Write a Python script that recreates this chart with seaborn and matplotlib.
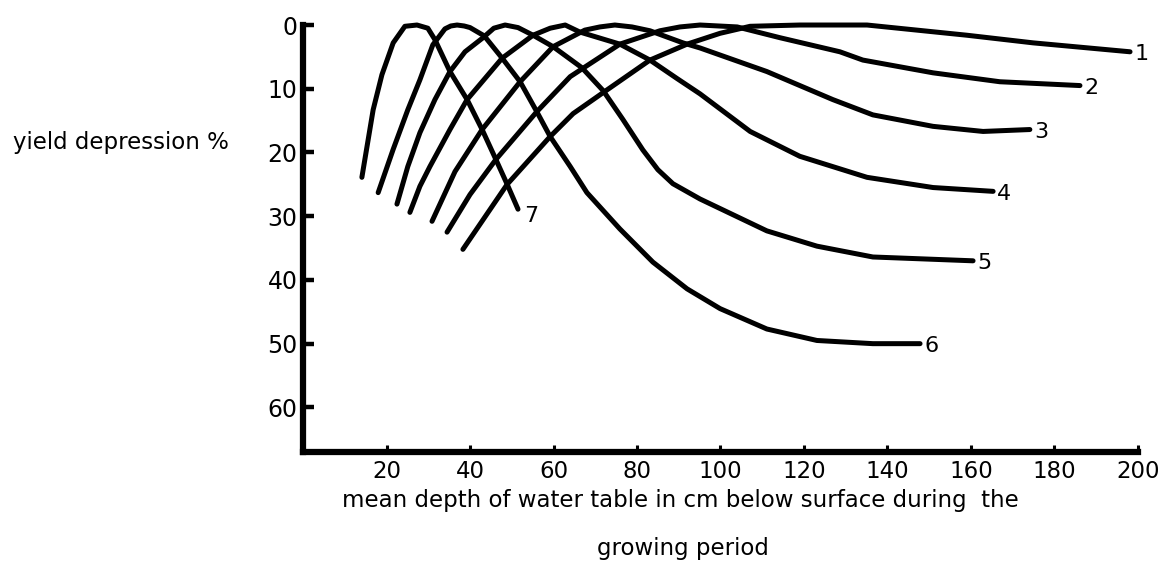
import matplotlib
matplotlib.use("Agg")
import matplotlib.pyplot as plt
import seaborn as sns
import pandas as pd

# Yield depression (%) against mean water-table depth (cm), curves 1-7
depth_1 = [38.3, 48.9, 59.2, 64.7, 71.9, 83.1, 92.0, 99.9, 107.1, 119.0, 135.1, 159.0, 174.9, 198.1]
yield_1 = [35.2, 25.0, 17.5, 13.9, 10.6, 5.5, 3.0, 1.3, 0.2, 0.0, 0.0, 1.6, 2.8, 4.2]

depth_2 = [34.5, 40.0, 46.2, 56.0, 64.0, 66.8, 75.9, 85.5, 90.3, 95.1, 104.0, 114.3, 128.6, 134.1, 150.9, 166.9, 186.1]
yield_2 = [32.5, 26.6, 21.1, 13.6, 8.1, 6.9, 3.0, 0.9, 0.3, 0.0, 0.3, 2.0, 4.2, 5.5, 7.5, 8.9, 9.5]

depth_3 = [30.9, 36.4, 42.9, 52.0, 59.9, 67.5, 71.1, 74.7, 78.8, 83.1, 91.0, 95.1, 111.1, 126.9, 136.5, 150.9, 162.9, 174.1]
yield_3 = [30.8, 23.0, 16.4, 8.9, 3.4, 0.8, 0.3, 0.0, 0.3, 0.9, 2.8, 3.6, 7.3, 11.7, 14.1, 15.9, 16.7, 16.4]

depth_4 = [25.6, 28.0, 30.4, 35.2, 39.3, 47.7, 55.1, 59.2, 62.8, 66.3, 75.9, 83.1, 89.6, 95.1, 107.1, 119.0, 135.1, 150.9, 165.3]
yield_4 = [29.4, 25.3, 22.2, 16.4, 11.7, 5.2, 1.6, 0.5, 0.0, 1.1, 3.0, 5.5, 8.4, 10.8, 16.7, 20.6, 23.9, 25.5, 26.1]

depth_5 = [22.5, 25.1, 28.0, 31.6, 35.2, 38.8, 43.1, 45.7, 48.4, 51.5, 55.1, 59.9, 66.8, 71.9, 76.6, 81.4, 85.0, 88.6, 95.1, 111.1, 123.1, 136.5, 160.5]
yield_5 = [28.1, 22.2, 16.9, 11.7, 7.3, 4.2, 2.0, 0.5, 0.0, 0.4, 1.6, 3.4, 6.7, 10.3, 14.8, 19.6, 22.7, 24.9, 27.3, 32.3, 34.7, 36.4, 37.0]

depth_6 = [18.0, 21.6, 25.1, 28.0, 31.1, 34.0, 35.4, 36.9, 38.6, 40.0, 43.4, 47.7, 52.0, 56.0, 59.2, 64.0, 68.0, 75.9, 83.8, 92.0, 99.9, 111.1, 123.1, 136.5, 147.8]
yield_6 = [26.3, 19.5, 13.3, 8.6, 3.1, 0.6, 0.15, 0.0, 0.15, 0.4, 1.7, 5.2, 8.9, 13.6, 17.5, 22.2, 26.3, 32.0, 37.2, 41.4, 44.5, 47.7, 49.5, 50.0, 50.0]

depth_7 = [14.1, 16.8, 18.9, 21.6, 24.4, 27.3, 29.9, 31.6, 35.2, 39.3, 42.9, 46.2, 48.9, 51.5]
yield_7 = [23.9, 13.3, 7.8, 2.8, 0.2, 0.0, 0.5, 2.3, 7.3, 11.7, 16.4, 21.1, 25.0, 28.9]

curve_names = ["1", "2", "3", "4", "5", "6", "7"]
depths = [depth_1, depth_2, depth_3, depth_4, depth_5, depth_6, depth_7]
yields = [yield_1, yield_2, yield_3, yield_4, yield_5, yield_6, yield_7]

x_ticks = [20, 40, 60, 80, 100, 120, 140, 160, 180, 200]
y_ticks = [0, 10, 20, 30, 40, 50, 60]

frames = [pd.DataFrame({"depth": d, "depression": y, "curve": n})
          for n, d, y in zip(curve_names, depths, yields)]
df = pd.concat(frames, ignore_index=True)

sns.set_theme(style="ticks")
plt.rcParams["font.family"] = ["DejaVu Sans"]
plt.rcParams["text.color"] = "black"
plt.rcParams["xtick.color"] = "black"
plt.rcParams["ytick.color"] = "black"
plt.rcParams["xtick.labelcolor"] = "black"
plt.rcParams["ytick.labelcolor"] = "black"

fig = plt.figure(figsize=(11.65, 5.61), dpi=100)
ax = fig.add_axes([0.2601, 0.1943, 0.7167, 0.7611])

sns.lineplot(data=df, x="depth", y="depression", units="curve", estimator=None,
             sort=False, color="black", linewidth=3.6, ax=ax)
for line in ax.get_lines():
    line.set_clip_on(False)
    line.set_solid_joinstyle("round")
    line.set_solid_capstyle("round")

# curve numbers at the right-hand end of each line
for n, d, y in zip(curve_names, depths, yields):
    dx = 1.0 if n != "7" else 1.5
    dy = 0.4 if n != "7" else 1.0
    ax.text(d[-1] + dx, y[-1] + dy, n, fontsize=16, color="black",
            ha="left", va="center", clip_on=False)

ax.set_xlim(0, 200)
ax.set_ylim(67, 0)
ax.set_xticks(x_ticks)
ax.set_yticks(y_ticks)
ax.set_xticklabels([str(v) for v in x_ticks], fontsize=16.5)
ax.set_yticklabels([str(v) for v in y_ticks], fontsize=17)
ax.tick_params(axis="y", direction="in", length=8, width=3.2, pad=4)
ax.tick_params(axis="x", direction="in", length=5, width=2.2, pad=6)
ax.set_xlabel("")
ax.set_ylabel("")

for side in ("top", "right"):
    ax.spines[side].set_visible(False)
for side in ("left", "bottom"):
    ax.spines[side].set_linewidth(4.5)
    ax.spines[side].set_color("black")
    ax.spines[side].set_capstyle("projecting")

fig.text(13 / 1165, 1 - 142 / 561, "yield depression %", fontsize=16.5,
         ha="left", va="center")
fig.text(680 / 1165, 1 - 501 / 561,
         "mean depth of water table in cm below surface during  the",
         fontsize=16.5, ha="center", va="center")
fig.text(683 / 1165, 1 - 548 / 561, "growing period", fontsize=16.5,
         ha="center", va="center")

fig.savefig("out.png", dpi=100, facecolor="white")
